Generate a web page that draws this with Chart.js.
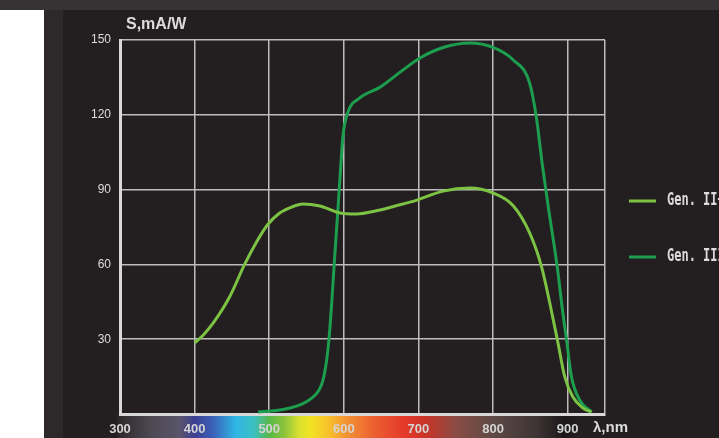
<!DOCTYPE html>
<html lang="en">
<head>
  <meta charset="UTF-8">
  <title>S, mA/W</title>
  <style>
    html, body { margin: 0; padding: 0; }
    body { width: 719px; height: 438px; background: #363334; position: relative; overflow: hidden; }
    .left-white { position: absolute; left: 0; top: 10px; width: 44px; height: 428px; background: #ffffff; }
    .side-strip { position: absolute; left: 44px; top: 10px; width: 19px; height: 428px; background: #2d292a; }
    .main-box { position: absolute; left: 63px; top: 10px; width: 656px; height: 428px; background: #231f20; }
    .chartBox { position: absolute; left: 0; top: 0; }
  </style>
</head>
<body>
<div class="left-white"></div>
<div class="side-strip"></div>
<div class="main-box"></div>
<div class="chartBox">
  <canvas id="myChart" width="719" height="438"></canvas>
</div>

<script src="https://cdn.jsdelivr.net/npm/chart.js"></script>
<script>
  // wavelength (nm) and sensitivity (mA/W)
  const lambdaGen2 = [400, 412, 425, 447, 467, 483, 498, 514, 530, 545, 568, 595, 617, 645, 670, 698, 733, 769, 800, 827, 849, 865, 876, 887, 896, 907, 920, 932];
  const genIIplus  = [28.5, 31.8, 36.5, 47, 60, 69, 76, 80.6, 83, 84.2, 83.4, 80.6, 80.2, 81.6, 83.5, 85.8, 89.4, 90.6, 88.6, 83.5, 72.6, 59, 44.5, 28.5, 15, 6.8, 2.5, 0.8];

  const lambdaGen3 = [485, 510, 528, 545, 557, 566, 572, 577, 580, 584, 587, 592, 596, 599, 605, 621, 648, 675, 702, 733, 769, 800, 827, 849, 858, 866, 874, 886, 893, 899, 905, 916, 932];
  const genIII     = [0.8, 1.4, 2.4, 4.2, 6.4, 9.2, 13.5, 21.7, 29.7, 45.7, 59.8, 81.8, 100, 112, 120.7, 126.7, 131, 137, 142.8, 147, 148.8, 147, 142, 132.7, 119, 100, 83, 59, 41.7, 28.5, 15, 5.6, 0.8];

  const seriesNames  = ['Gen. II+', 'Gen. III'];
  const seriesColors = ['#7cc243', '#1d9e4e'];

  const xTicks = [300, 400, 500, 600, 700, 800, 900];
  const yTicks = [30, 60, 90, 120, 150];

  // spectrum strip under the x axis: wavelength -> colour
  const spectrumNm     = [296, 340, 380, 400, 425, 455, 480, 500, 520, 540, 555, 580, 605, 640, 680, 710, 750, 800, 860, 895, 912];
  const spectrumColors = ['#2b2728', '#4c4852', '#59556b', '#3d3f92', '#3a62b8', '#2fb7e6', '#3cbfc0', '#58b848', '#8cc43c', '#d8e030', '#f2e422', '#f8c02c', '#f39034', '#ec6030', '#e53a2a', '#c83428', '#8a4c44', '#5e4a46', '#3c3333', '#1c1819', '#231f20'];

  const spectrumBar = {
    id: 'spectrumBar',
    beforeDraw(chart) {
      const c = chart.ctx;
      const xs = chart.scales.x;
      const area = chart.chartArea;
      const x0 = xs.getPixelForValue(spectrumNm[0]);
      const x1 = xs.getPixelForValue(spectrumNm[spectrumNm.length - 1]);
      const g = c.createLinearGradient(x0, 0, x1, 0);
      spectrumNm.forEach((nm, i) => {
        g.addColorStop((nm - spectrumNm[0]) / (spectrumNm[spectrumNm.length - 1] - spectrumNm[0]), spectrumColors[i]);
      });
      c.save();
      c.fillStyle = g;
      c.fillRect(x0, area.bottom, x1 - x0, chart.height - area.bottom);
      c.restore();
    }
  };

  const extraText = {
    id: 'extraText',
    afterDraw(chart) {
      const c = chart.ctx;
      const area = chart.chartArea;
      c.save();
      c.fillStyle = '#dcdcdc';
      c.textBaseline = 'middle';
      c.textAlign = 'left';
      c.font = 'bold 16px "Liberation Sans", Arial, sans-serif';
      c.fillText('S,mA/W', area.left + 6, 25);
      c.font = 'bold 15px "Liberation Sans", Arial, sans-serif';
      c.fillText('λ,nm', 593, 428);

      // legend
      const rows = [201, 257];
      chart.data.datasets.forEach((ds, i) => {
        c.strokeStyle = ds.borderColor;
        c.lineWidth = 3;
        c.beginPath();
        c.moveTo(629, rows[i]);
        c.lineTo(656, rows[i]);
        c.stroke();
        c.save();
        c.translate(667, rows[i]);
        c.scale(1, 1.4);
        c.fillStyle = '#dcdcdc';
        c.font = 'bold 12px "DejaVu Sans Mono", monospace';
        c.fillText(ds.label, 0, 0);
        c.restore();
      });
      c.restore();
    }
  };

  const ctx = document.getElementById('myChart');

  const myChart = new Chart(ctx, {
    type: 'line',
    data: {
      datasets: [
        {
          label: seriesNames[0],
          data: lambdaGen2.map((l, i) => ({x: l, y: genIIplus[i]})),
          borderColor: seriesColors[0],
          borderWidth: 3,
          pointRadius: 0,
          fill: false,
          cubicInterpolationMode: 'monotone'
        },
        {
          label: seriesNames[1],
          data: lambdaGen3.map((l, i) => ({x: l, y: genIII[i]})),
          borderColor: seriesColors[1],
          borderWidth: 3,
          pointRadius: 0,
          fill: false,
          cubicInterpolationMode: 'monotone'
        }
      ]
    },
    options: {
      responsive: false,
      maintainAspectRatio: false,
      animation: false,
      layout: {
        padding: {top: 40, right: 114, left: 0, bottom: 0}
      },
      plugins: {
        legend: {display: false},
        tooltip: {enabled: false}
      },
      scales: {
        x: {
          type: 'linear',
          min: 300,
          max: 950,
          afterFit: s => { s.height = 24; },
          ticks: {
            stepSize: 100,
            autoSkip: false,
            maxRotation: 0,
            color: '#d4d4d4',
            padding: 8,
            font: {family: '"Liberation Sans", Arial, sans-serif', size: 13, weight: 'bold'},
            callback: v => xTicks.includes(v) ? v : ''
          },
          grid: {color: '#bcbcbc', lineWidth: 1.5, drawTicks: false},
          border: {color: '#d8d8d8', width: 3}
        },
        y: {
          min: 0,
          max: 150,
          afterFit: s => { s.width = 120; },
          ticks: {
            stepSize: 30,
            color: '#dcdcdc',
            padding: 9,
            font: {family: '"Liberation Sans", Arial, sans-serif', size: 12},
            callback: v => yTicks.includes(v) ? v : ''
          },
          grid: {color: '#bcbcbc', lineWidth: 1.5, drawTicks: false},
          border: {color: '#d8d8d8', width: 3}
        }
      }
    },
    plugins: [spectrumBar, extraText]
  });
</script>
</body>
</html>
